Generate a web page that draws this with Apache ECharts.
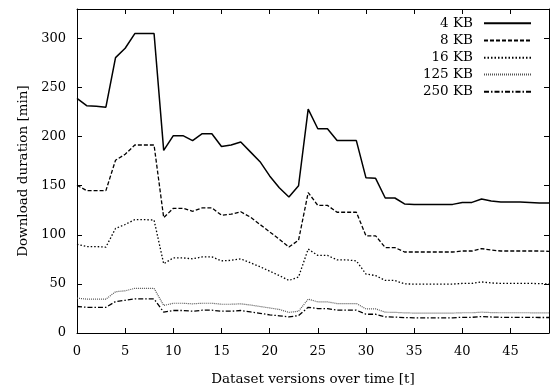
<!DOCTYPE html>
<html>
<head>
<meta charset="utf-8">
<script src="https://cdn.jsdelivr.net/npm/echarts@6/dist/echarts.min.js"></script>
<style>html,body{margin:0;padding:0;background:#fff}#c{width:552px;height:391px}</style>
</head>
<body>
<div id="c"></div>
<script>
const versions = Array.from({length: 50}, (_, i) => i);
const seriesNames = ['4 KB', '8 KB', '16 KB', '125 KB', '250 KB'];
const kb4 = [239, 231.5, 231, 230, 280.5, 290, 305, 305, 305, 186, 201, 201, 196, 203, 203, 190, 191.5, 194.5, 184.5, 174.5, 160, 148, 138.5, 150, 228, 208, 208, 196, 196, 196, 158, 157.5, 137.5, 137.5, 131.5, 131, 131, 131, 131, 131, 133, 133, 136.5, 134.5, 133.5, 133.5, 133.5, 133, 132.5, 132.3];
const kb8 = [150.5, 145, 145, 145, 176, 182, 191.5, 191.5, 191.5, 117.5, 127, 127, 124, 127.5, 127.5, 120, 121, 123.5, 118, 110.5, 103, 95.5, 87.5, 94.5, 143, 130, 130, 123, 123, 123, 99, 99, 87, 87, 82.5, 82.5, 82.5, 82.5, 82.5, 82.5, 83.5, 83.5, 86, 84.5, 83.5, 83.5, 83.5, 83.5, 83.5, 83.2];
const kb16 = [90.5, 88, 88, 87.5, 106.5, 110.5, 115.5, 115.5, 115, 70.5, 76.5, 76.5, 75.5, 77.5, 77.5, 73.5, 74, 75.5, 71.5, 67.5, 63, 58.5, 53.5, 57, 85.5, 79, 79, 74.5, 74.5, 73.5, 60, 58.5, 53.5, 53.5, 50, 49.8, 49.8, 49.8, 49.8, 49.8, 50.5, 50.5, 52, 51, 50.5, 50.5, 50.5, 50.5, 50.3, 50];
const kb125 = [35.5, 34.5, 34.5, 34.5, 42, 43, 45.5, 45.5, 45.5, 28, 30.3, 30.3, 29.7, 30.3, 30.3, 29.3, 29.3, 29.7, 28.5, 27, 25.5, 24, 21, 22.2, 34.5, 31.7, 31.7, 30, 30, 30, 24.6, 24.6, 21.2, 21, 20.5, 20.3, 20.3, 20.3, 20.3, 20.3, 20.6, 20.6, 21.2, 20.8, 20.6, 20.6, 20.6, 20.6, 20.5, 20.5];
const kb250 = [27, 26.2, 26.2, 26.2, 32, 33.3, 34.7, 34.7, 34.7, 21.2, 22.9, 22.9, 22.2, 23.2, 23.2, 22.2, 22.2, 22.9, 21.5, 20, 18.5, 17.5, 16.4, 17.8, 26.2, 24.9, 24.9, 23.2, 23.2, 23.2, 19.1, 19.1, 16.4, 16.2, 15.7, 15.5, 15.5, 15.5, 15.5, 15.5, 16, 16, 16.8, 16.3, 16, 16, 16, 16, 15.8, 15.8];
const xTicks = [0, 5, 10, 15, 20, 25, 30, 35, 40, 45];
const yTicks = [0, 50, 100, 150, 200, 250, 300];

const allData = [kb4, kb8, kb16, kb125, kb250];
const styles = [
  {color: '#000', width: 1.5, type: 'solid'},
  {color: '#000', width: 1.3, type: [4, 2]},
  {color: '#000', width: 1.3, type: [1.5, 2]},
  {color: '#555', width: 1.2, type: [1, 1]},
  {color: '#000', width: 1.3, type: [5, 2, 1.5, 2]}
];
const font = 'DejaVu Serif';
const rowCenters = [23.3, 40.6, 57.7, 74.6, 91.7];
const chart = echarts.init(document.getElementById('c'), null, {renderer: 'canvas'});
const axisCommon = {
  axisLine: {show: true, onZero: false, lineStyle: {color: '#000', width: 1}},
  axisTick: {show: true, inside: true, length: 5, lineStyle: {color: '#000'}},
  splitLine: {show: false}
};
chart.setOption({
  animation: false,
  backgroundColor: '#fff',
  grid: {left: 77, right: -1, top: 9, bottom: 56.5},
  legend: seriesNames.map((n, i) => ({
    orient: 'horizontal',
    right: 20,
    top: rowCenters[i] - 7,
    padding: 0,
    align: 'right',
    itemWidth: 47,
    itemHeight: 14,
    itemGap: 0,
    itemStyle: {opacity: 0},
    data: [n],
    textStyle: {fontFamily: font, fontSize: 13.5, lineHeight: 14, color: '#000', padding: [0, 6, 0, 0]}
  })),
  xAxis: [
    Object.assign({}, axisCommon, {
      type: 'value', min: 0, max: 49, interval: 5,
      name: 'Dataset versions over time [t]', nameLocation: 'middle', nameGap: 39,
      nameTextStyle: {fontFamily: font, fontSize: 13.5, color: '#000'},
      axisLabel: {fontFamily: font, fontSize: 13, color: '#000', margin: 12,
        formatter: v => xTicks.indexOf(v) >= 0 ? String(v) : ''}
    }),
    Object.assign({}, axisCommon, {
      type: 'value', min: 0, max: 49, interval: 5, position: 'top', axisLabel: {show: false}
    })
  ],
  yAxis: [
    Object.assign({}, axisCommon, {
      type: 'value', min: 0, max: 330, interval: 50,
      name: 'Download duration [min]', nameLocation: 'middle', nameGap: 45,
      nameTextStyle: {fontFamily: font, fontSize: 13.5, color: '#000'},
      axisLabel: {fontFamily: font, fontSize: 13, color: '#000', margin: 11,
        formatter: v => yTicks.indexOf(v) >= 0 ? String(v) : ''}
    }),
    Object.assign({}, axisCommon, {
      type: 'value', min: 0, max: 330, interval: 50, position: 'right', axisLabel: {show: false}
    })
  ],
  series: seriesNames.map((n, i) => ({
    name: n,
    type: 'line',
    xAxisIndex: 0,
    yAxisIndex: 0,
    symbol: 'none',
    showSymbol: false,
    data: versions.map((x, j) => [x, allData[i][j]]),
    lineStyle: {color: styles[i].color, width: styles[i].width, type: styles[i].type},
    itemStyle: {color: styles[i].color}
  }))
});
</script>
</body>
</html>
